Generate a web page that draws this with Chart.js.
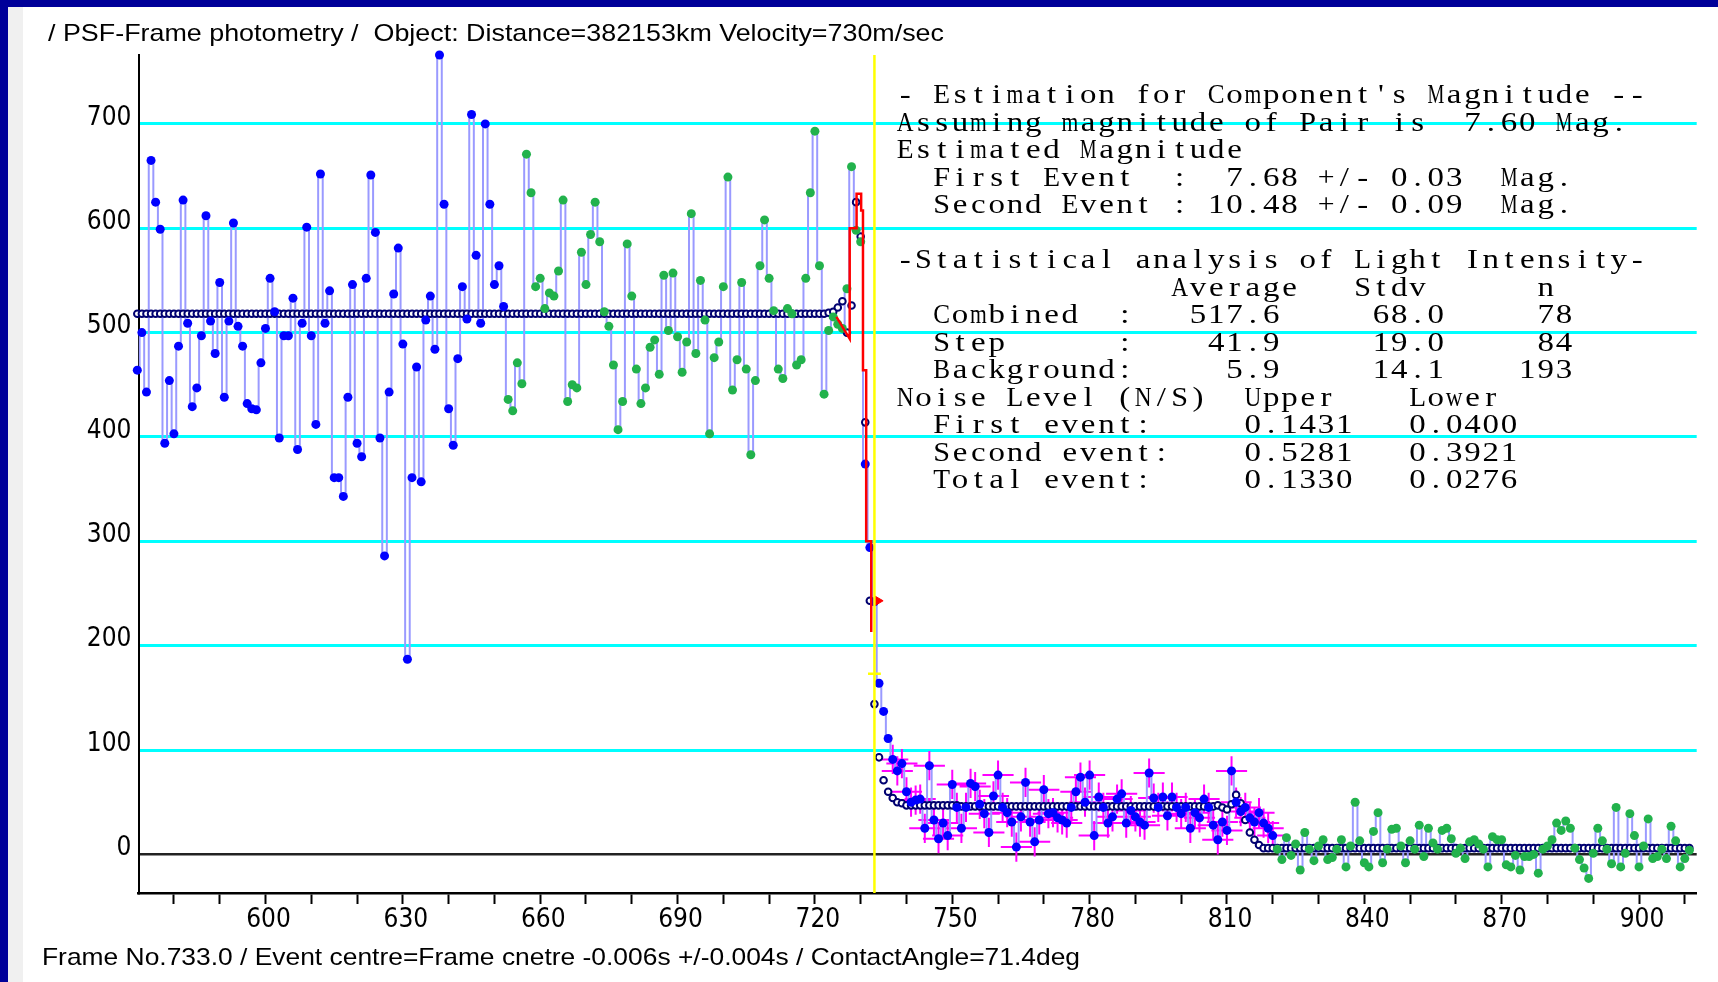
<!DOCTYPE html>
<html>
<head>
<meta charset="utf-8">
<title>PSF-Frame photometry</title>
<script src="https://cdn.jsdelivr.net/npm/chart.js@4.4.1/dist/chart.umd.min.js"></script>
<style>
  html, body { margin: 0; padding: 0; background: #fff; overflow: hidden; }
  canvas { display: block; }
</style>
</head>
<body>
<canvas id="lc" width="1718" height="982"></canvas>
<script>
// one value per video frame, starting at firstFrame
const firstFrame = 572;
const intensity = [
  464, 500, 443, 665, 625, 599, 394, 454, 403, 487,
  627, 509, 429, 447, 497, 612, 511, 480, 548, 438,
  511, 605, 506, 487, 432, 427, 426, 471, 504, 552,
  520, 399, 497, 497, 533, 388, 509, 601, 497, 412,
  652, 509, 540, 361, 361, 343, 438, 546, 394, 381,
  552, 651, 596, 399, 286, 443, 537, 581, 489, 187,
  361, 467, 357, 512, 535, 484, 766, 623, 427, 392,
  475, 544, 513, 709, 574, 509, 700, 623, 546, 564,
  525, 436, 425, 471, 451, 671, 634, 544, 552, 523,
  538, 535, 559, 627, 434, 450, 447, 577, 546, 594,
  625, 587, 520, 506, 469, 407, 434, 585, 535, 465,
  432, 447, 486, 493, 460, 555, 502, 557, 496, 462,
  491, 614, 480, 550, 512, 403, 476, 491, 544, 649,
  445, 474, 548, 465, 383, 454, 564, 608, 552, 521,
  465, 456, 523, 518, 469, 474, 552, 634, 693, 564,
  441, 502, 515, 508, 504, 542, 659, 598, 587, 374,
  294, 242, 164, 137, 111, 91, 80, 87, 60, 50,
  52, 53, 25, 85, 33, 15, 30, 18, 67, 45,
  25, 45, 68, 65, 48, 39, 21, 56, 76, 45,
  40, 31, 7, 36, 69, 31, 12, 33, 62, 39,
  40, 35, 33, 30, 45, 60, 74, 50, 76, 18,
  55, 45, 30, 36, 53, 58, 30, 42, 36, 31,
  28, 78, 54, 45, 55, 37, 55, 45, 39, 45,
  25, 40, 35, 53, 45, 28, 14, 31, 23, 80,
  50, 41, 45, 35, 31, 40, 30, 25, 18, 5,
  -5, 16, -1, 10, -15, 21, 5, -6, 8, 14,
  -5, -3, 5, 14, -12, 8, 50, 13, -8, -12,
  22, 40, -8, 5, 24, 25, 8, -8, 13, 5,
  28, -2, 25, 11, 5, 23, 25, 15, 1, 6,
  -4, 12, 14, 10, 5, -12, 17, 14, 14, -10,
  -12, -1, -15, -2, -2, 0, -18, 5, 8, 14,
  30, 23, 32, 25, 6, -5, -13, -23, 1, 25,
  13, 5, -9, 45, -12, 1, 39, 18, -12, 8,
  34, -4, -2, 5, -4, 27, 13, -12, -4, 4
];
// fitted model, same frames
const model = [
  518, 518, 518, 518, 518, 518, 518, 518, 518, 518,
  518, 518, 518, 518, 518, 518, 518, 518, 518, 518,
  518, 518, 518, 518, 518, 518, 518, 518, 518, 518,
  518, 518, 518, 518, 518, 518, 518, 518, 518, 518,
  518, 518, 518, 518, 518, 518, 518, 518, 518, 518,
  518, 518, 518, 518, 518, 518, 518, 518, 518, 518,
  518, 518, 518, 518, 518, 518, 518, 518, 518, 518,
  518, 518, 518, 518, 518, 518, 518, 518, 518, 518,
  518, 518, 518, 518, 518, 518, 518, 518, 518, 518,
  518, 518, 518, 518, 518, 518, 518, 518, 518, 518,
  518, 518, 518, 518, 518, 518, 518, 518, 518, 518,
  518, 518, 518, 518, 518, 518, 518, 518, 518, 518,
  518, 518, 518, 518, 518, 518, 518, 518, 518, 518,
  518, 518, 518, 518, 518, 518, 518, 518, 518, 518,
  518, 518, 518, 518, 518, 518, 518, 518, 518, 518,
  518, 519, 520, 524, 530, 500, 526, 625, 592, 414,
  243, 144, 93, 71, 60, 54, 50, 49, 47, 47,
  47, 47, 47, 47, 47, 47, 47, 47, 47, 47,
  46, 46, 46, 46, 46, 46, 46, 46, 46, 46,
  46, 46, 46, 46, 46, 46, 46, 46, 46, 46,
  46, 46, 46, 46, 46, 46, 46, 46, 46, 46,
  46, 46, 46, 46, 46, 46, 46, 46, 46, 46,
  46, 46, 46, 46, 46, 46, 46, 46, 46, 46,
  46, 46, 46, 46, 46, 46, 47, 45, 43, 48,
  57, 49, 33, 21, 14, 9, 6, 6, 6, 6,
  6, 6, 6, 6, 6, 6, 6, 6, 6, 6,
  6, 6, 6, 6, 6, 6, 6, 6, 6, 6,
  6, 6, 6, 6, 6, 6, 6, 6, 6, 6,
  6, 6, 6, 6, 6, 6, 6, 6, 6, 6,
  6, 6, 6, 6, 6, 6, 6, 6, 6, 6,
  6, 6, 6, 6, 6, 6, 6, 6, 6, 6,
  6, 6, 6, 6, 6, 6, 6, 6, 6, 6,
  6, 6, 6, 6, 6, 6, 6, 6, 6, 6,
  6, 6, 6, 6, 6, 6, 6, 6, 6, 6
];
// frame ranges drawn green (used for the statistics)
const greenRanges = [[653, 730], [821, 911]];
// frames that carry error crosses, and their half sizes
const errorRange = [737, 820];
const errFrames = 3.4;
const errLevel = 14;
// fine model curve round the first event
const fineFrames = [724.7, 727.6, 727.6, 729.1, 729.1, 730.1, 730.1, 730.5, 730.5, 731.2, 731.2, 732.3, 732.3];
const fineValues = [515, 494, 600, 600, 633, 633, 617, 617, 464, 464, 300, 300, 213];
const markerFrame = [733.7];
const markerValue = [243];
const eventFrame = 733;
const centreLevel = 173;

const xMin = 572.26, xMax = 912.6;
const yMin = -37, yMax = 766;
const xTicks = [580, 590, 600, 610, 620, 630, 640, 650, 660, 670, 680, 690, 700, 710, 720, 730, 740, 750, 760, 770, 780, 790, 800, 810, 820, 830, 840, 850, 860, 870, 880, 890, 900, 910];
const xLabels = [600, 630, 660, 690, 720, 750, 780, 810, 840, 870, 900];
const yTicks = [0, 100, 200, 300, 400, 500, 600, 700];

const titleText = '/ PSF-Frame photometry /  Object: Distance=382153km Velocity=730m/sec';
const footText = 'Frame No.733.0 / Event centre=Frame cnetre -0.006s +/-0.004s / ContactAngle=71.4deg';
const infoLines = [
  "- Estimation for Component's Magnitude --",
  "Assuming magnitude of Pair is  7.60 Mag.",
  "Estimated Magnitude",
  "  First Event  :  7.68 +/- 0.03  Mag.",
  "  Second Event : 10.48 +/- 0.09  Mag.",
  "",
  "-Statistical analysis of Light Intensity-",
  "               Average   Stdv      n",
  "  Combined  :   517.6     68.0     78",
  "  Step      :    41.9     19.0     84",
  "  Background:     5.9     14.1    193",
  "Noise Level (N/S)  Upper    Lower",
  "  First event:     0.1431   0.0400",
  "  Second event:    0.5281   0.3921",
  "  Total event:     0.1330   0.0276"
];

const BLUE = '#0000ff';
const GREEN = '#22b24c';
const tickFont = { family: "'Liberation Sans Narrow', 'DejaVu Sans Condensed', 'Liberation Sans', sans-serif", size: 26 };

function isGreen(f) {
  return greenRanges.some(r => f >= r[0] && f <= r[1]);
}

const obsPoints = intensity.map((v, i) => ({ x: firstFrame + i, y: v }));
const modelPoints = model.map((v, i) => ({ x: firstFrame + i, y: v }));
const pointColors = obsPoints.map(p => isGreen(p.x) ? GREEN : BLUE);
const finePoints = fineFrames.map((f, i) => ({ x: f, y: fineValues[i] }));
const markerPoints = markerFrame.map((f, i) => ({ x: f, y: markerValue[i] }));

// draws text squeezed or stretched to a given width
function fitText(ctx, text, x, y, width, font) {
  ctx.save();
  ctx.font = font;
  ctx.textAlign = 'left';
  ctx.textBaseline = 'alphabetic';
  const w = ctx.measureText(text).width;
  ctx.translate(x, y);
  ctx.scale(width / w, 1);
  ctx.fillText(text, 0, 0);
  ctx.restore();
}

const framePlugin = {
  id: 'frame',
  beforeDraw(chart) {
    const ctx = chart.ctx;
    ctx.save();
    ctx.fillStyle = '#ffffff';
    ctx.fillRect(0, 0, chart.width, chart.height);
    ctx.fillStyle = '#f0f0f0';
    ctx.fillRect(8, 7, 15, chart.height);
    ctx.fillStyle = '#000099';
    ctx.fillRect(0, 0, chart.width, 7);
    ctx.fillRect(0, 0, 8, chart.height);
    ctx.restore();
  },
  beforeDatasetsDraw(chart) {
    // error crosses under the step points
    const ctx = chart.ctx, xs = chart.scales.x, ys = chart.scales.y;
    ctx.save();
    ctx.strokeStyle = '#ff00ff';
    ctx.lineWidth = 2;
    ctx.beginPath();
    obsPoints.forEach(p => {
      if (p.x < errorRange[0] || p.x > errorRange[1]) return;
      const px = xs.getPixelForValue(p.x), py = ys.getPixelForValue(p.y);
      ctx.moveTo(xs.getPixelForValue(p.x - errFrames), py);
      ctx.lineTo(xs.getPixelForValue(p.x + errFrames), py);
      ctx.moveTo(px, ys.getPixelForValue(p.y + errLevel));
      ctx.lineTo(px, ys.getPixelForValue(p.y - errLevel));
    });
    ctx.stroke();
    ctx.restore();
  },
  afterDatasetsDraw(chart) {
    const ctx = chart.ctx, xs = chart.scales.x, ys = chart.scales.y, a = chart.chartArea;
    const ex = xs.getPixelForValue(eventFrame);
    ctx.save();
    ctx.strokeStyle = '#ffff00';
    ctx.lineWidth = 2.5;
    ctx.beginPath();
    ctx.moveTo(ex, a.top);
    ctx.lineTo(ex, a.bottom);
    const cy = ys.getPixelForValue(centreLevel);
    ctx.moveTo(xs.getPixelForValue(eventFrame - 1.4), cy);
    ctx.lineTo(xs.getPixelForValue(eventFrame + 1.4), cy);
    ctx.stroke();
    ctx.restore();
  },
  afterDraw(chart) {
    const ctx = chart.ctx;
    ctx.save();
    ctx.fillStyle = '#000';
    fitText(ctx, titleText, 48, 41, 896, '24px "Liberation Sans", Arial, sans-serif');
    fitText(ctx, footText, 42, 965, 1038, '24px "Liberation Sans", Arial, sans-serif');
    // monospaced statistics block, glyphs widened to fill their cells
    const cell = 18.3, x0 = 896, y0 = 103.3, lineGap = 27.5, stretch = 1.22;
    ctx.font = '27px "Liberation Serif", "DejaVu Serif", serif';
    ctx.textAlign = 'center';
    ctx.textBaseline = 'alphabetic';
    infoLines.forEach((line, r) => {
      for (let i = 0; i < line.length; i++) {
        const ch = line[i];
        if (ch === ' ') continue;
        ctx.save();
        ctx.translate(x0 + (i + 0.5) * cell, y0 + r * lineGap);
        ctx.scale(stretch, 1);
        ctx.fillText(ch, 0, 0, (cell - 1.5) / stretch);
        ctx.restore();
      }
    });
    ctx.restore();
  }
};

const ctx = document.getElementById('lc').getContext('2d');
new Chart(ctx, {
  type: 'scatter',
  data: {
    datasets: [
      {
        label: 'fine model',
        data: finePoints,
        showLine: true,
        borderColor: '#ff0000',
        borderWidth: 2.5,
        pointRadius: 0,
        order: 1
      },
      {
        label: 'marker',
        data: markerPoints,
        pointStyle: 'triangle',
        rotation: 90,
        pointRadius: 5.5,
        backgroundColor: '#ff0000',
        borderColor: '#ff0000',
        borderWidth: 1,
        order: 0
      },
      {
        label: 'frames',
        data: obsPoints,
        showLine: false,
        pointRadius: 4.5,
        pointStyle: 'circle',
        backgroundColor: pointColors,
        borderWidth: 0,
        clip: 8,
        order: 2
      },
      {
        label: 'model',
        data: modelPoints,
        showLine: false,
        pointRadius: 3.3,
        pointStyle: 'circle',
        backgroundColor: '#ffffff',
        borderColor: '#000070',
        borderWidth: 2,
        clip: 8,
        order: 3
      },
      {
        label: 'trace',
        data: obsPoints,
        showLine: true,
        stepped: 'middle',
        borderColor: '#9a9aff',
        borderWidth: 2,
        pointRadius: 0,
        order: 4
      }
    ]
  },
  options: {
    responsive: false,
    animation: false,
    devicePixelRatio: 1,
    events: [],
    layout: { padding: { top: 55, right: 21.3, bottom: 0, left: 0 } },
    plugins: {
      legend: { display: false },
      tooltip: { enabled: false }
    },
    scales: {
      x: {
        type: 'linear',
        min: xMin,
        max: xMax,
        afterBuildTicks: s => { s.ticks = xTicks.map(v => ({ value: v })); },
        afterFit: s => { s.height = 89; },
        ticks: {
          autoSkip: false,
          maxRotation: 0,
          padding: 1,
          labelOffset: 3,
          color: '#000',
          font: tickFont,
          callback: v => xLabels.includes(v) ? String(v) : ''
        },
        grid: {
          drawOnChartArea: false,
          drawTicks: true,
          tickLength: 11,
          tickColor: '#000',
          tickWidth: 2
        },
        border: { color: '#000', width: 2.5 }
      },
      y: {
        type: 'linear',
        min: yMin,
        max: yMax,
        afterBuildTicks: s => { s.ticks = yTicks.map(v => ({ value: v })); },
        afterFit: s => { s.width = 138.5; },
        ticks: {
          padding: 7,
          labelOffset: -6,
          color: '#000',
          font: tickFont
        },
        grid: {
          drawTicks: false,
          color: c => (c.tick && c.tick.value === 0) ? '#222222' : '#00ffff',
          lineWidth: c => (c.tick && c.tick.value === 0) ? 2.5 : 3
        },
        border: { color: '#000', width: 2 }
      }
    }
  },
  plugins: [framePlugin]
});
</script>
</body>
</html>
